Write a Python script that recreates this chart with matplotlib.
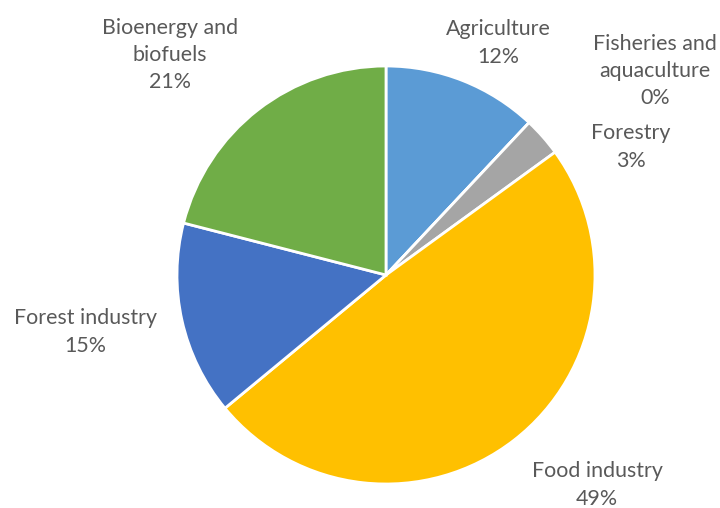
import matplotlib.pyplot as plt

# sectors and their shares (%)
sectors = ['Agriculture', 'Fisheries and\naquaculture', 'Forestry',
           'Food industry', 'Forest industry', 'Bioenergy and\nbiofuels']
shares = [12, 0, 3, 49, 15, 21]
colors = ['#5B9BD5', '#ED7D31', '#A5A5A5', '#FFC000', '#4472C4', '#70AD47']

# label centres, in pie-radius units
label_pos = [(0.536, 1.110), (1.287, 0.976), (1.172, 0.612),
             (1.010, -1.005), (-1.440, -0.273), (-1.033, 1.053)]

fig = plt.figure(figsize=(7.2, 5.08), dpi=100)
ax = fig.add_axes([0, 0, 1, 1])

ax.pie(shares, colors=colors, startangle=90, counterclock=False,
       radius=1.0, wedgeprops=dict(edgecolor='white', linewidth=2))

for name, val, (x, y) in zip(sectors, shares, label_pos):
    ax.text(x, y, f'{name}\n{val}%', ha='center', va='center',
            fontsize=15.4, color='#595959', family='Lato',
            linespacing=1.45)

ax.set_xlim(-386 / 209, (720 - 386) / 209)
ax.set_ylim(-(508 - 275) / 209, 275 / 209)
ax.set_aspect('auto')
ax.axis('off')

fig.savefig('out.png', dpi=100)
